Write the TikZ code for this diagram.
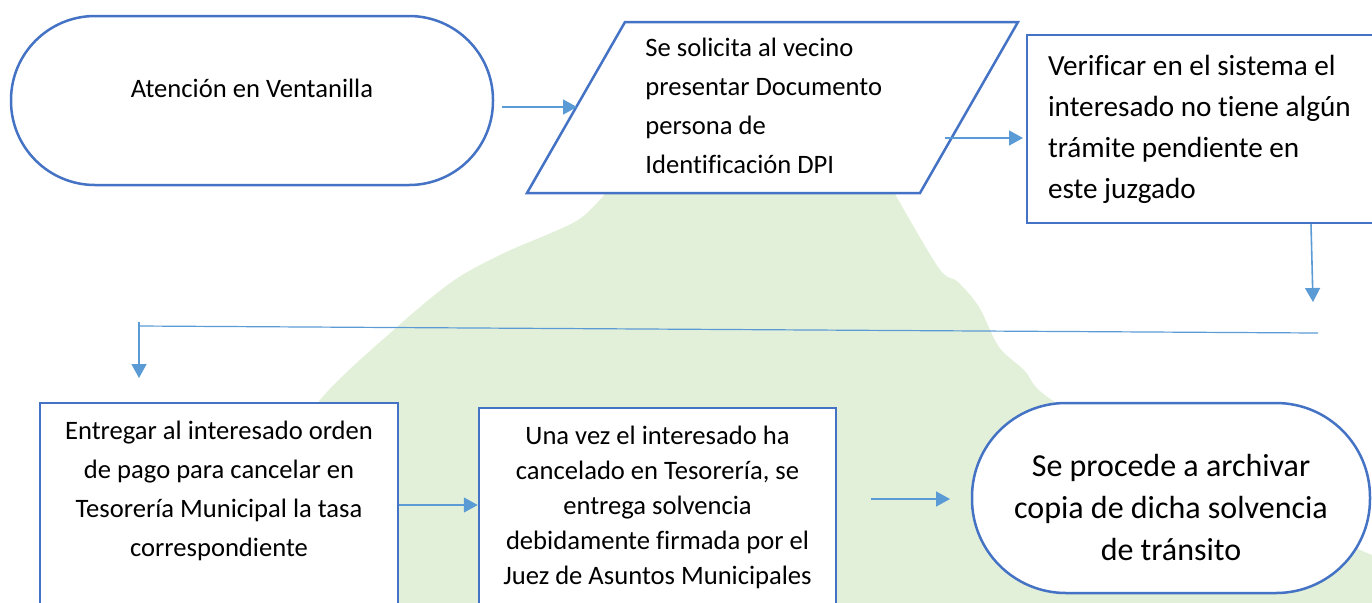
\documentclass[tikz,border=0pt]{standalone}
\usepackage{fontspec}
\setmainfont{Carlito}[Ligatures=NoCommon]
\usetikzlibrary{arrows.meta}
\definecolor{boxblue}{HTML}{4472C4}
\definecolor{linkblue}{HTML}{5B9BD5}
\definecolor{blobgreen}{HTML}{E2F0D9}
\tikzset{
  shapebox/.style={draw=boxblue, line width=1.25pt, fill=white, inner sep=0pt},
  link/.style={draw=linkblue, line width=0.8pt, -{Triangle[length=7pt,width=7.5pt]}},
  plainlink/.style={draw=linkblue, line width=0.6pt},
  txtA/.style={font=\fontsize{13.3}{19.5}\selectfont},
}
\begin{document}
\begin{tikzpicture}[x=0.5pt,y=-0.5pt]
\useasboundingbox (0,0) rectangle (1372,602);
\clip (0,0) rectangle (1372,602);
% background blob
\fill[blobgreen] (180,700) -- plot[smooth, tension=0.5] coordinates {(180,700) (265,490) (320,400) (397,327) (453,281) (504,253) (578,220) (612,185)}
  -- (890,185) -- plot[smooth, tension=0.55] coordinates {(890,185) (938,267) (958,282) (979,307) (999,347) (1024,370) (1055,402) (1200,480) (1372,555)}
  -- (1400,560) -- (1400,700) -- cycle;

% start terminal
\node[shapebox, rounded corners=42pt, minimum width=241pt, minimum height=84.5pt,
  label={[txtA, yshift=6pt]center:Atención en Ventanilla}] (start) at (252,100.5) {};

% parallelogram
\coordinate (p1) at (625,22);
\coordinate (p2) at (1018,22);
\coordinate (p3) at (920,193);
\coordinate (p4) at (527,193);
\draw[shapebox] (p1) -- (p2) -- (p3) -- (p4) -- cycle;
\node[txtA, align=left, anchor=west, inner sep=0pt] (par) at (645,106)
  {Se solicita al vecino\\presentar Documento\\persona de\\Identificación DPI};

% verify box
\node[shapebox, minimum height=94pt, text width=165.5pt, inner xsep=10.5pt, align=flush left,
  font=\fontsize{14.6}{20.5}\selectfont] (verif) at (1213.5,129)
  {Verificar en el sistema el\\interesado no tiene algún\\trámite pendiente en\\este juzgado};

% bottom-left box
\node[shapebox, minimum width=179pt, minimum height=118.5pt,
  label={[txtA, align=center, yshift=15.5pt]center:Entregar al interesado orden\\de pago para cancelar en\\Tesorería Municipal la tasa\\correspondiente}] (pay) at (219,521.5) {};

% middle box
\node[shapebox, minimum width=178.5pt, minimum height=116pt,
  label={[font=\fontsize{13.3}{17.5}\selectfont, align=center, yshift=8.5pt]center:Una vez el interesado ha\\cancelado en Tesorería, se\\entrega solvencia\\debidamente firmada por el\\Juez de Asuntos Municipales}] (solv) at (657.5,524) {};

% end terminal
\node[shapebox, rounded corners=47pt, minimum width=199pt, minimum height=95pt,
  label={[font=\fontsize{16}{21}\selectfont, align=center, yshift=-4.5pt]center:Se procede a archivar\\copia de dicha solvencia\\de tránsito}] (end) at (1171,498) {};

% connectors
\coordinate (a1s) at (502,107);
\coordinate (a1e) at (577,107);
\draw[link] (a1s) -- (a1e);
\coordinate (a2s) at (945,138);
\coordinate (a2e) at (1023,138);
\draw[link] (a2s) -- (a2e);
\coordinate (a3e) at (1313,302);
\draw[link] (verif.south -| 1311,0) -- (a3e);
\coordinate (hr) at (1318,333);
\coordinate (hl) at (139,326);
\draw[plainlink] (hr) -- (hl);
\coordinate (vtop) at (139,322);
\coordinate (vend) at (139,378);
\draw[link] (vtop) -- (vend);
\draw[link] (pay.east |- 0,505) -- (solv.west |- 0,505);
\coordinate (a6s) at (871,499);
\coordinate (a6e) at (950,499);
\draw[link] (a6s) -- (a6e);
\end{tikzpicture}
\end{document}
